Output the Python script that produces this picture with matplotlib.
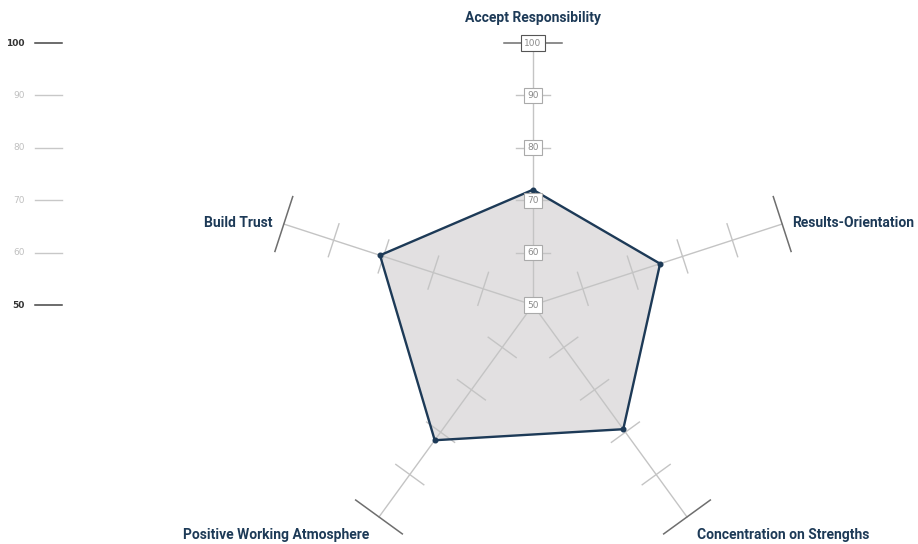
import numpy as np
import matplotlib
matplotlib.use("Agg")
import matplotlib.pyplot as plt
from matplotlib import font_manager

available_fonts = {f.name for f in font_manager.fontManager.ttflist}
label_font = next((f for f in ["Liberation Sans Narrow", "Roboto", "Lato"] if f in available_fonts), "DejaVu Sans")

# data
categories = ["Accept Responsibility", "Results-Orientation", "Concentration on Strengths",
              "Positive Working Atmosphere", "Build Trust"]
scores = [72, 75.5, 79.3, 81.9, 80.7]
scale_ticks = [50, 60, 70, 80, 90, 100]
scale_min, scale_max = 50, 100

navy = "#1d3a57"
fill_col = "#e2e0e1"
axis_col = "#c4c4c4"
cap_col = "#6e6e6e"

# angles: first category at top, clockwise
angles = np.deg2rad(90 - 72 * np.arange(len(categories)))

fig = plt.figure(figsize=(9.18, 5.44), dpi=100)
ax = fig.add_axes([0, 0, 1, 1])
px = 262 / (scale_max - scale_min)   # pixels per unit
cx, cy = 533, 305
ax.set_xlim(-cx / px, (918 - cx) / px)
ax.set_ylim(-(544 - cy) / px, cy / px)
ax.axis("off")

def pt(v, a):
    r = v - scale_min
    return r * np.cos(a), r * np.sin(a)

# filled polygon
xs, ys = zip(*[pt(v, a) for v, a in zip(scores, angles)])
ax.fill(xs, ys, color=fill_col, zorder=1)

# axes with ticks
for i, a in enumerate(angles):
    x1, y1 = pt(scale_max, a)
    ax.plot([0, x1], [0, y1], color=axis_col, lw=1, zorder=2)
    nx, ny = -np.sin(a), np.cos(a)
    for v in scale_ticks[1:]:
        tx, ty = pt(v, a)
        half = 5.5 if v == scale_max else 3.3
        col = cap_col if v == scale_max else axis_col
        ax.plot([tx - half * nx, tx + half * nx], [ty - half * ny, ty + half * ny],
                color=col, lw=1.1 if v == scale_max else 1, zorder=2)

# boxed value labels on top axis
for v in scale_ticks:
    tx, ty = pt(v, angles[0])
    ax.text(tx, ty, str(v), ha="center", va="center", fontsize=6.5, color="#8a8a8a",
            zorder=6,
            bbox=dict(boxstyle="square,pad=0.35", fc="white",
                      ec="#555555" if v == scale_max else "#aaaaaa", lw=0.8))

# outline and points
ax.plot(list(xs) + [xs[0]], list(ys) + [ys[0]], color=navy, lw=1.7, zorder=4)
ax.scatter(xs, ys, s=11, color=navy, zorder=5)

# category labels
for i, (name, a) in enumerate(zip(categories, angles)):
    if i == 0:
        x, y, ha = 0, (cy - 18) / px, "center"
    elif i == 1:
        x, y, ha = (792 - cx) / px, (cy - 223) / px, "left"
    elif i == 2:
        x, y, ha = (697 - cx) / px, (cy - 535) / px, "left"
    elif i == 3:
        x, y, ha = (369 - cx) / px, (cy - 535) / px, "right"
    else:
        x, y, ha = (272 - cx) / px, (cy - 223) / px, "right"
    ax.text(x, y, name, ha=ha, va="center", fontsize=10, fontweight="bold",
            color=navy, family=label_font)

# scale legend on the left
for v in scale_ticks:
    y = v - scale_min
    dark = v in (scale_min, scale_max)
    col = "#444444" if dark else "#c8c8c8"
    ax.plot([(35 - cx) / px, (62 - cx) / px], [y, y], color=col, lw=1.1 if dark else 1)
    ax.text((25 - cx) / px, y, str(v), ha="right", va="center", fontsize=6.5,
            color="#333333" if dark else "#c0c0c0", fontweight="bold" if dark else "normal")

plt.savefig("out.png", dpi=100)
